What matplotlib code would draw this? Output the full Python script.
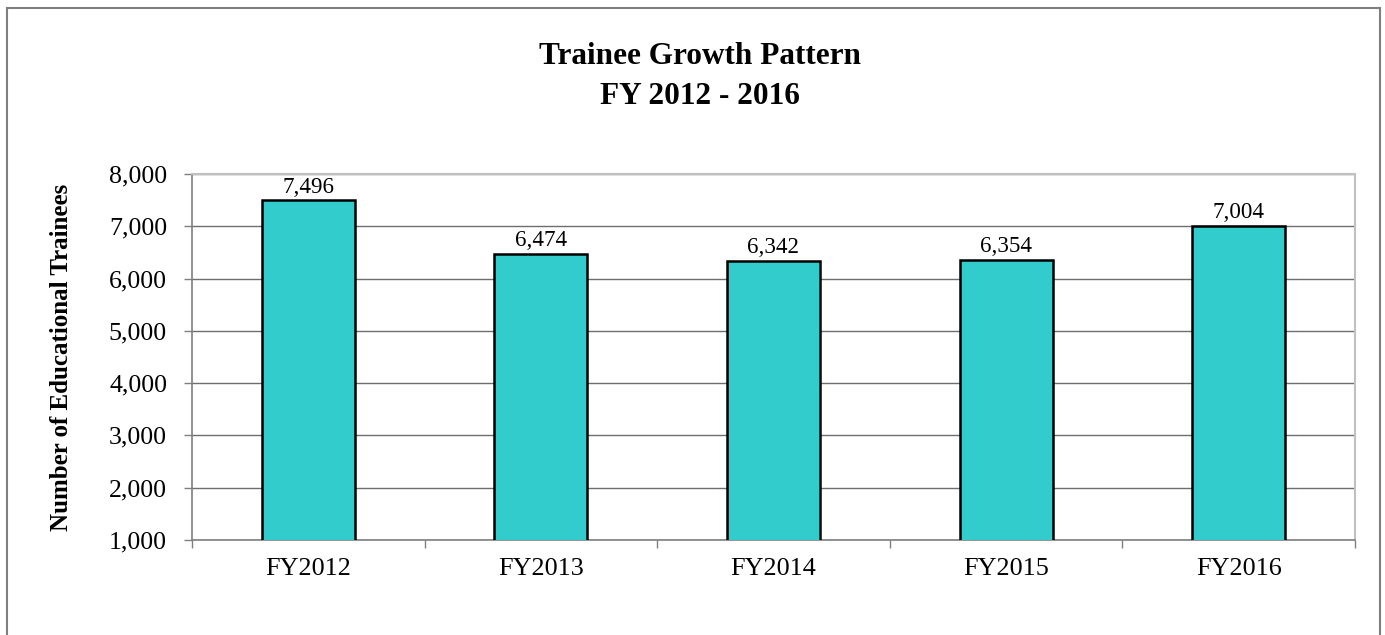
import matplotlib
matplotlib.use("Agg")
import matplotlib.pyplot as plt
from matplotlib.patches import Rectangle
from matplotlib.ticker import FuncFormatter, FixedLocator
import numpy as np

categories = ["FY2012", "FY2013", "FY2014", "FY2015", "FY2016"]
trainees = [7496, 6474, 6342, 6354, 7004]
y_ticks = [1000, 2000, 3000, 4000, 5000, 6000, 7000, 8000]

plt.rcParams["font.family"] = ["Liberation Serif", "DejaVu Serif"]

W, H = 1385, 635
fig = plt.figure(figsize=(W / 100, H / 100), dpi=100)

# outer chart border
fig.patches.append(Rectangle((7 / W, -0.05), (1380 - 7) / W, 1.05 - 8 / H,
                             transform=fig.transFigure, fill=False,
                             edgecolor="#7f7f7f", linewidth=1.5))

ax = fig.add_axes([192 / W, 1 - 540 / H, (1355 - 192) / W, (540 - 174) / H])

x = np.arange(len(categories))
ax.bar(x, trainees, width=0.4, color="#33CCCC", edgecolor="black",
       linewidth=1.8, zorder=3)

ax.set_xlim(-0.5, len(categories) - 0.5)
ax.set_ylim(1000, 8000)
ax.set_yticks(y_ticks)
ax.yaxis.set_major_formatter(FuncFormatter(lambda v, p: f"{int(v):,}"))
ax.grid(axis="y", color="#6e6e6e", linewidth=1.0, zorder=0)
ax.set_axisbelow(True)

# x ticks at category boundaries, labels centered under bars
ax.xaxis.set_major_locator(FixedLocator(np.arange(-0.5, len(categories), 1.0)))
ax.xaxis.set_major_formatter(FuncFormatter(lambda v, p: ""))
ax.xaxis.set_minor_locator(FixedLocator(x))
ax.set_xticklabels(categories, minor=True)
ax.tick_params(axis="x", which="major", length=6, width=1, color="#7f7f7f", direction="out")
ax.tick_params(axis="x", which="minor", length=0, labelsize=18.8, pad=13)
ax.tick_params(axis="y", length=6, width=1, color="#7f7f7f", labelsize=18.6, pad=12)

for side in ("top", "right"):
    ax.spines[side].set_color("#c0c0c0")
    ax.spines[side].set_linewidth(1.5)
for side in ("left", "bottom"):
    ax.spines[side].set_color("#7f7f7f")
    ax.spines[side].set_linewidth(1.2)

for xi, v in zip(x, trainees):
    ax.text(xi, v + 50, f"{v:,}", ha="center", va="bottom", fontsize=16.6)

ax.set_ylabel("Number of Educational Trainees", fontsize=18, fontweight="bold", labelpad=26)

fig.text(700 / W, 1 - 57 / H, "Trainee Growth Pattern", ha="center", va="center",
         fontsize=22.5, fontweight="bold")
fig.text(700 / W, 1 - 97 / H, "FY 2012 - 2016", ha="center", va="center",
         fontsize=22.5, fontweight="bold")

fig.savefig("out.png", dpi=100)
